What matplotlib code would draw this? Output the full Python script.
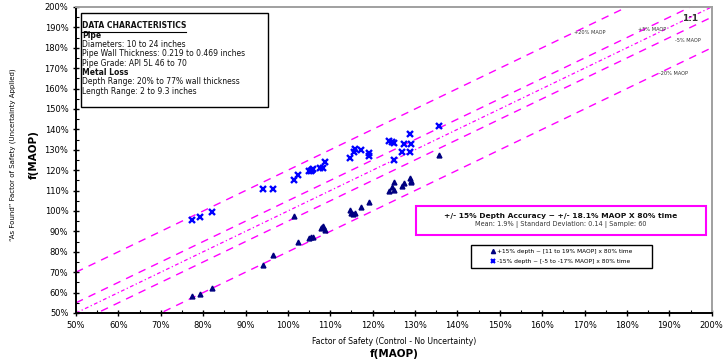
import matplotlib.pyplot as plt
import numpy as np
from matplotlib.lines import Line2D
from matplotlib.patches import Rectangle
from matplotlib.ticker import MultipleLocator, FuncFormatter

# control factor of safety (x) vs "as found" factor of safety (y), in %
plus_x = [77.4, 79.3, 82.1, 94.1, 96.4, 101.5, 102.4, 104.9, 105.4, 106.0,
          107.7, 108.2, 108.7, 114.7, 115.4, 115.8, 117.3, 119.1, 123.9, 124.5,
          125.0, 125.0, 126.9, 127.4, 128.8, 129.1, 129.0, 135.7, 115.0, 108.0]
plus_y = [58.3, 59.2, 62.1, 73.4, 78.4, 97.7, 85.0, 87.0, 87.3, 87.3,
          91.6, 92.5, 90.7, 100.5, 98.7, 99.2, 101.9, 104.6, 109.7, 111.7,
          110.1, 114.1, 112.1, 113.8, 116.2, 114.9, 114.2, 127.6, 98.9, 92.0]

minus_x = [77.4, 79.3, 82.1, 94.1, 96.4, 101.5, 102.4, 104.9, 105.4, 106.0,
           107.5, 108.2, 108.7, 114.7, 115.5, 115.9, 117.3, 119.1, 119.1, 123.8,
           124.5, 125.1, 125.1, 126.9, 127.4, 128.8, 129.1, 128.9, 135.7, 105.7]
minus_y = [95.4, 96.9, 99.5, 110.9, 110.9, 115.2, 117.6, 119.6, 119.6, 120.8,
           121.2, 121.3, 124.2, 125.8, 128.8, 130.4, 130.0, 128.2, 126.8, 134.5,
           134.0, 133.2, 125.1, 128.7, 133.0, 137.6, 133.0, 128.8, 141.6, 120.2]

# reference lines: offset from 1:1 in % MAOP
ref_offsets = [20, 5, 0, -5, -20]
ref_labels = ["+20% MAOP", "+5% MAOP", None, "-5% MAOP", "-20% MAOP"]

plus_label = "+15% depth ~ [11 to 19% MAOP] x 80% time"
minus_label = "-15% depth ~ [-5 to -17% MAOP] x 80% time"

info_lines = [
    ("DATA CHARACTERISTICS", True),
    ("Pipe", True),
    ("Diameters: 10 to 24 inches", False),
    ("Pipe Wall Thickness: 0.219 to 0.469 inches", False),
    ("Pipe Grade: API 5L 46 to 70", False),
    ("Metal Loss", True),
    ("Depth Range: 20% to 77% wall thickness", False),
    ("Length Range: 2 to 9.3 inches", False),
]

MAGENTA = "#FF00FF"

fig = plt.figure(figsize=(7.24, 3.6), dpi=100)
ax = fig.add_axes([0.105, 0.1306, 0.878, 0.85])

xs = np.array([50, 200])
for off in ref_offsets:
    if off == 0:
        ax.plot(xs, xs + off, color=MAGENTA, lw=0.9, dashes=(3, 2, 1, 2), zorder=1)
    else:
        ax.plot(xs, xs + off, color=MAGENTA, lw=1.0, dashes=(5.5, 4.5), zorder=1)

ax.plot(plus_x, plus_y, ls="none", marker="^", ms=3.5, color="#000080", zorder=3)
ax.plot(minus_x, minus_y, ls="none", marker="x", ms=4.5, mew=1.7, color="#0000FF",
        zorder=3)

ax.set_xlim(50, 200)
ax.set_ylim(50, 200)
ax.xaxis.set_major_locator(MultipleLocator(10))
ax.yaxis.set_major_locator(MultipleLocator(10))
ax.xaxis.set_minor_locator(MultipleLocator(5))
ax.yaxis.set_minor_locator(MultipleLocator(5))
pct = FuncFormatter(lambda v, p: "%d%%" % round(v))
ax.xaxis.set_major_formatter(pct)
ax.yaxis.set_major_formatter(pct)
ax.tick_params(which="major", direction="inout", length=5, width=1, labelsize=6,
               pad=3, colors="black")
ax.tick_params(which="minor", direction="in", length=2.5, width=0.8)
for s in ["left", "bottom"]:
    ax.spines[s].set_linewidth(1.4)
for s in ["top", "right"]:
    ax.spines[s].set_color("#a0a0a0")
    ax.spines[s].set_linewidth(1.4)

# axis titles
fig.text(0.5442, 0.05, "Factor of Safety (Control - No Uncertainty)", ha="center",
         va="center", fontsize=5.6)
fig.text(0.5442, 0.017, "f(MAOP)", ha="center", va="center", fontsize=7.5,
         fontweight="bold")
fig.text(0.017, 0.57, "\u201cAs Found\u201d Factor of Safety (Uncertainty Applied)",
         ha="center", va="center", rotation=90, fontsize=5)
fig.text(0.046, 0.57, "f(MAOP)", ha="center", va="center", rotation=90,
         fontsize=7.5, fontweight="bold")

# reference line labels
label_pos = [(167.5, 187.7), (182.5, 189.2), None, (191.3, 183.8), (187.5, 167.6)]
for lab, pos in zip(ref_labels, label_pos):
    if lab:
        ax.text(pos[0], pos[1], lab, fontsize=3.6, ha="left", va="center",
                color="#333333")
ax.text(195.0, 194.3, "1:1", fontsize=6.5, fontweight="bold", ha="center",
        va="center", color="#333333")

# data characteristics box
ax.add_patch(Rectangle((0.0079, 0.673), 0.294, 0.307, transform=ax.transAxes,
                       fill=True, facecolor="white", edgecolor="black", lw=1.0,
                       zorder=4))
y0 = 0.938
info_texts = []
for i, (line, bold) in enumerate(info_lines):
    t = ax.text(0.0095, y0 - i * 0.0305, line, transform=ax.transAxes,
                fontsize=5.5, fontweight="bold" if bold else "normal",
                ha="left", va="center", zorder=5, color="#111111")
    info_texts.append(t)

# underline the box heading to its drawn width
fig.canvas.draw()
bb = info_texts[0].get_window_extent().transformed(ax.transAxes.inverted())
ax.add_line(Line2D([bb.x0, bb.x1], [bb.y0 - 0.004, bb.y0 - 0.004],
                   transform=ax.transAxes, color="black", lw=0.8, zorder=5))

# accuracy statistics box
ax.add_patch(Rectangle((0.535, 0.255), 0.456, 0.095, transform=ax.transAxes,
                       facecolor="white", edgecolor=MAGENTA, lw=1.5, zorder=4))
ax.text(0.7626, 0.318, "+/- 15% Depth Accuracy ~ +/- 18.1% MAOP X 80% time",
        transform=ax.transAxes, fontsize=5.4, fontweight="bold", ha="center",
        va="center", zorder=5, color="#111111")
ax.text(0.7626, 0.288, "Mean: 1.9% | Standard Deviation: 0.14 | Sample: 60",
        transform=ax.transAxes, fontsize=4.7, ha="center", va="center", zorder=5,
        color="#333333")

# series legend in its own frame
ax.add_patch(Rectangle((0.621, 0.147), 0.285, 0.075, transform=ax.transAxes,
                       facecolor="white", edgecolor="black", lw=1.0, zorder=5))
handles = [
    Line2D([], [], ls="none", marker="^", ms=3, color="#000080"),
    Line2D([], [], ls="none", marker="x", ms=3.5, mew=1.5, color="#0000FF"),
]
leg = ax.legend(handles, [plus_label, minus_label], loc="center",
                bbox_to_anchor=(0.7635, 0.1845), fontsize=4.2, frameon=False,
                handlelength=0.8, handletextpad=0.3, labelspacing=0.9,
                borderpad=0.7, borderaxespad=0)
leg.set_zorder(6)

fig.savefig("out.png", dpi=100)
